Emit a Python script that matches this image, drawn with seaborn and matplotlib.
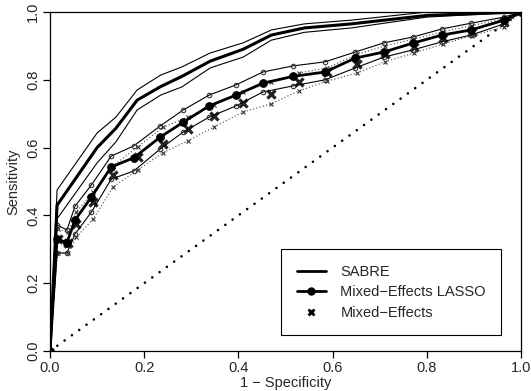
import numpy as np
import pandas as pd
import matplotlib
matplotlib.use("Agg")
import matplotlib.pyplot as plt
from matplotlib.lines import Line2D
import seaborn as sns

# ---- data ----
sabre_fpr = [0, 0.015, 0.10, 0.14, 0.185, 0.235, 0.28, 0.34, 0.41, 0.47, 0.54, 0.64, 0.80, 1.0]
sabre_mid = [0, 0.43, 0.600, 0.657, 0.740, 0.780, 0.810, 0.855, 0.890, 0.932, 0.953, 0.965, 0.990, 1.0]
sabre_hi  = [0, 0.475, 0.643, 0.690, 0.770, 0.814, 0.838, 0.879, 0.909, 0.947, 0.965, 0.976, 1.0, 1.0]
sabre_lo  = [0, 0.39, 0.555, 0.617, 0.711, 0.755, 0.779, 0.835, 0.867, 0.917, 0.940, 0.953, 0.985, 1.0]

lasso_fpr = [0, 0.015, 0.036, 0.053, 0.088, 0.13, 0.178, 0.234, 0.283, 0.338, 0.395,
             0.452, 0.516, 0.584, 0.648, 0.709, 0.77, 0.832, 0.894, 0.964, 1.0]
lasso_mid = [0, 0.33, 0.32, 0.386, 0.454, 0.543, 0.570, 0.631, 0.675, 0.723, 0.755,
             0.790, 0.810, 0.823, 0.864, 0.882, 0.908, 0.932, 0.947, 0.976, 1.0]
lasso_hi  = [0, 0.372, 0.357, 0.427, 0.490, 0.575, 0.605, 0.664, 0.711, 0.755, 0.785,
             0.823, 0.841, 0.853, 0.882, 0.909, 0.926, 0.950, 0.967, 0.985, 1.0]
lasso_lo  = [0, 0.289, 0.289, 0.345, 0.410, 0.507, 0.531, 0.596, 0.646, 0.690, 0.723,
             0.764, 0.782, 0.800, 0.835, 0.867, 0.888, 0.912, 0.932, 0.965, 1.0]

me_fpr = [0, 0.016, 0.038, 0.056, 0.092, 0.134, 0.186, 0.24, 0.293, 0.348, 0.41,
          0.469, 0.528, 0.588, 0.652, 0.711, 0.772, 0.834, 0.896, 0.964, 1.0]
me_mid = [0, 0.33, 0.32, 0.375, 0.44, 0.518, 0.572, 0.61, 0.655, 0.693, 0.731,
          0.757, 0.794, 0.823, 0.847, 0.875, 0.898, 0.922, 0.942, 0.970, 1.0]
me_hi  = [0, 0.36, 0.35, 0.41, 0.47, 0.546, 0.602, 0.660, 0.690, 0.726, 0.764,
          0.794, 0.820, 0.835, 0.875, 0.900, 0.920, 0.942, 0.960, 0.980, 1.0]
me_lo  = [0, 0.29, 0.29, 0.335, 0.39, 0.484, 0.534, 0.585, 0.620, 0.661, 0.705,
          0.729, 0.767, 0.796, 0.820, 0.853, 0.879, 0.905, 0.930, 0.956, 1.0]

diag = [0, 1]

legend_labels = ["SABRE", "Mixed\u2212Effects LASSO", "Mixed\u2212Effects"]

# ---- style ----
sns.set_style("white")
plt.rcParams['font.family'] = ['Liberation Sans', 'DejaVu Sans']
plt.rcParams['font.size'] = 10

fig = plt.figure(figsize=(5.31, 3.91), dpi=100)
ax = fig.add_axes([50/531, 1 - 351/391, 471/531, 339/391])

def draw(x, y, **kw):
    df = pd.DataFrame({"x": x, "y": y})
    sns.lineplot(data=df, x="x", y="y", ax=ax, estimator=None, sort=False, **kw)

# diagonal
draw(diag, diag, color="black", lw=1.9, linestyle=(0, (0.01, 3.4)),
     dash_capstyle="round")

# Mixed-Effects bands (dotted with small x)
for yy in (me_hi, me_lo):
    draw(me_fpr, yy, color="#444444", lw=0.8, linestyle=(0, (1, 2)),
         marker="x", markersize=3.5, markeredgewidth=0.8, markeredgecolor="#333333")
# LASSO bands (thin with open circles)
for yy in (lasso_hi, lasso_lo):
    draw(lasso_fpr, yy, color="black", lw=0.8, marker="o", markersize=3.2,
         markerfacecolor="none", markeredgewidth=0.8, markeredgecolor="#333333")
# SABRE bands
for yy in (sabre_hi, sabre_lo):
    draw(sabre_fpr, yy, color="black", lw=0.8)
# SABRE center
draw(sabre_fpr, sabre_mid, color="black", lw=2.2)
# LASSO center
draw(lasso_fpr, lasso_mid, color="black", lw=2.0, marker="o", markersize=5.5,
     markerfacecolor="black", markeredgecolor="black")
# Mixed-Effects center (points only)
me_df = pd.DataFrame({"x": me_fpr[1:-1], "y": me_mid[1:-1]})
sns.scatterplot(data=me_df, x="x", y="y", ax=ax, marker="x", s=34,
                color="#222222", linewidth=2.3)

ax.set_xlim(0, 1)
ax.set_ylim(0, 1)
ticks = [0.0, 0.2, 0.4, 0.6, 0.8, 1.0]
ax.set_xticks(ticks)
ax.set_yticks(ticks)
ax.set_xticklabels([f"{t:.1f}" for t in ticks])
ax.set_yticklabels([f"{t:.1f}" for t in ticks], rotation=90, va="center")
ax.tick_params(axis="both", direction="out", length=5, width=0.9, color="black",
               labelsize=10.5, pad=2, bottom=True, left=True)
for s in ax.spines.values():
    s.set_color("black")
    s.set_linewidth(0.9)
ax.set_xlabel("1 \u2212 Specificity", fontsize=10.5, labelpad=1)
ax.set_ylabel("Sensitivity", fontsize=10.5, labelpad=4)

handles = [
    Line2D([], [], color="black", lw=2.0),
    Line2D([], [], color="black", lw=2.0, marker="o", markersize=5),
    Line2D([], [], color="black", lw=0, marker="x", markersize=5, markeredgewidth=2.0),
]
leg = ax.legend(handles, legend_labels, loc="lower right",
                bbox_to_anchor=(0.958, 0.047), frameon=True, fancybox=False,
                edgecolor="black", framealpha=1, fontsize=10.5,
                handlelength=2.0, borderpad=1.05, labelspacing=0.45,
                handletextpad=1.0, borderaxespad=0)
leg.get_frame().set_linewidth(0.8)

fig.savefig("out.png", dpi=100)
